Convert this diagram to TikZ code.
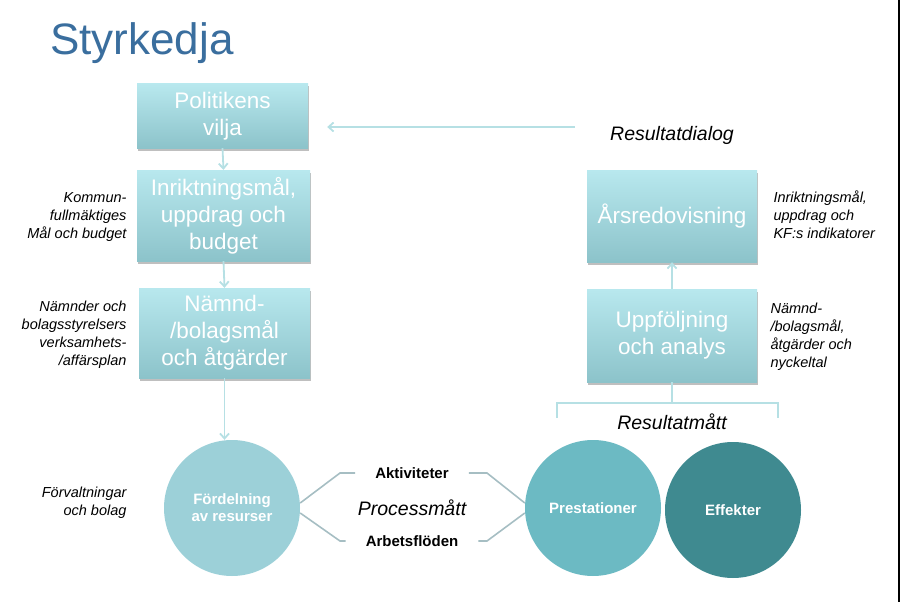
\documentclass[tikz,border=0pt]{standalone}
\usepackage{fontspec}
\setmainfont{Liberation Sans}
\usetikzlibrary{arrows.meta,shadows}

\definecolor{titleblue}{HTML}{3A6E9E}
\definecolor{boxtop}{HTML}{B8E8EE}
\definecolor{boxbot}{HTML}{8CC3CA}
\definecolor{arrcol}{HTML}{B6E0E4}
\definecolor{proccol}{HTML}{A6BEC3}
\definecolor{fordcol}{HTML}{9CD0D8}
\definecolor{prestcol}{HTML}{6CBAC3}
\definecolor{effcol}{HTML}{3F8A90}

\tikzset{
  stepbox/.style={rectangle, top color=boxtop, bottom color=boxbot, draw=none,
    text=white, align=center, font=\fontsize{22.5}{27}\selectfont,
    drop shadow={opacity=0.5, shadow xshift=1pt, shadow yshift=-2.5pt}},
  ball/.style={circle, minimum size=136pt, text=white, align=center,
    font=\bfseries\fontsize{15}{17}\selectfont},
  sidenote/.style={font=\itshape\fontsize{14.5}{18}\selectfont},
  arr/.style={draw=arrcol, line width=1.8pt, -{Straight Barb[length=5pt,width=9pt]}},
  procline/.style={draw=proccol, line width=1.6pt},
  proclabel/.style={font=\bfseries\fontsize{15}{17}\selectfont, inner xsep=20pt},
  bigit/.style={font=\itshape\fontsize{19.5}{22}\selectfont}
}

\begin{document}
\begin{tikzpicture}[x=1pt,y=-1pt]
\useasboundingbox (0,0) rectangle (900,602);
\draw[black, line width=1.5pt] (899,0) -- (899,602);

\node[anchor=base west, text=titleblue, font=\fontsize{44}{50}\selectfont, inner sep=0pt] (title) at (50,55) {Styrkedja};

% left chain
\node[stepbox, minimum width=171pt, minimum height=64pt] (politik) at (222.5,116) {Politikens\\vilja};
\node[stepbox, minimum width=173pt, minimum height=91pt] (inrikt) at (223.5,215.5) {Inriktningsmål,\\uppdrag och\\budget};
\node[stepbox, minimum width=171pt, minimum height=90pt] (namnd) at (224.5,333) {Nämnd-\\/bolagsmål\\och åtgärder};
\node[ball, fill=fordcol] (fordel) at (232,508) {Fördelning\\av resurser};

\draw[arr] (politik.south) -- (inrikt.north);
\draw[arr] (inrikt.south) -- (namnd.north);
\draw[arr] (namnd.south) -- (namnd.south |- fordel.north);

\node[sidenote, anchor=east, align=right] (kfnote) at (130,217) {Kommun-\\fullmäktiges\\Mål och budget};
\node[sidenote, anchor=east, align=right] (nnote) at (130,335) {Nämnder och\\bolagsstyrelsers\\verksamhets-\\/affärsplan};
\node[sidenote, anchor=east, align=right] (fnote) at (130,503) {Förvaltningar\\och bolag};

% right chain
\node[stepbox, minimum width=170pt, minimum height=92pt] (ars) at (672,216) {Årsredovisning};
\node[stepbox, minimum width=170pt, minimum height=93pt] (uppf) at (672,335.5) {Uppföljning\\och analys};
\node[ball, fill=prestcol] (prest) at (593,508) {Prestationer};
\node[ball, fill=effcol] (effekt) at (733,510) {Effekter};

\draw[arr] (uppf.north) -- (ars.south);

\node[sidenote, anchor=west, align=left] (arsnote) at (770,215) {Inriktningsmål,\\uppdrag och\\KF:s indikatorer};
\node[sidenote, anchor=west, align=left] (unote) at (767,337) {Nämnd-\\/bolagsmål,\\åtgärder och\\nyckeltal};

% result dialog back to the top
\node[bigit] (dialog) at (672,135) {Resultatdialog};
\coordinate (dlg) at (575,127);
\draw[arr, shorten >=19pt] (dlg) -- (dlg -| politik.east);

% bracket over the result circles
\coordinate (brl) at (557,403);
\coordinate (brr) at (778,403);
\draw[draw=arrcol, line width=1.6pt] ([yshift=-15pt]brl) -- (brl) -- (brr) -- ([yshift=-15pt]brr);
\draw[draw=arrcol, line width=1.6pt] (uppf.south) -- (uppf.south |- brl);
\node[bigit] (resmatt) at (672,422) {Resultatmått};

% process measures
\node[proclabel] (akt) at (412,473) {Aktiviteter};
\node[proclabel] (arb) at (412,541) {Arbetsflöden};
\node[bigit] (proc) at (412,508) {Processmått};
\draw[procline] (fordel.east |- 0,503) -- (340,473) -- (akt.west);
\draw[procline] (fordel.east |- 0,513) -- (340,541) -- (arb.west);
\draw[procline] (akt.east) -- (487,473) -- (prest.west |- 0,503);
\draw[procline] (arb.east) -- (487,541) -- (prest.west |- 0,513);
\end{tikzpicture}
\end{document}
